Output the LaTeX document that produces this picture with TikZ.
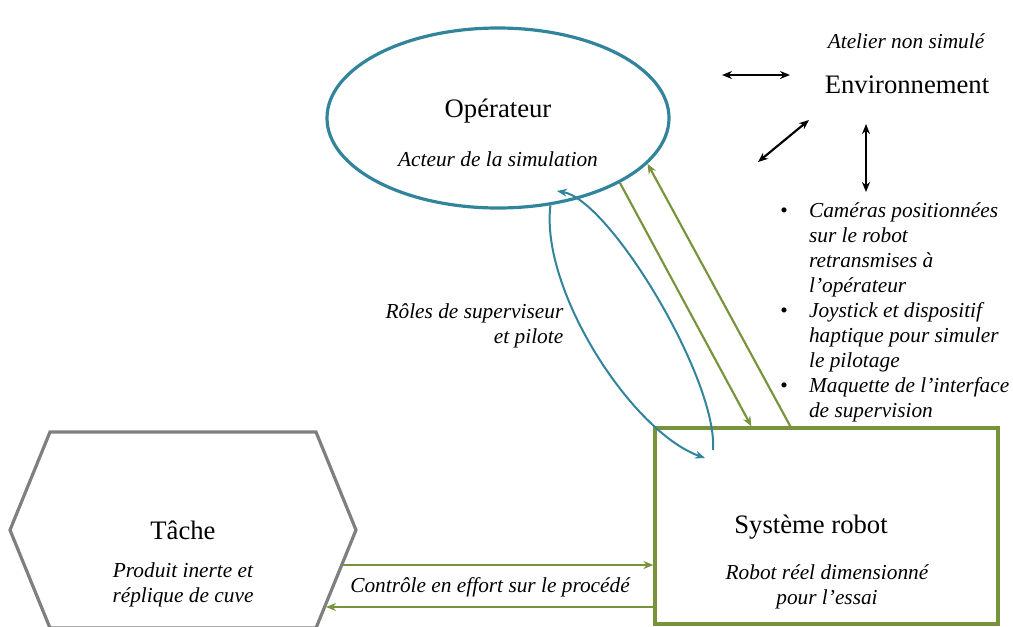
\documentclass[tikz,border=0pt]{standalone}
\usepackage{fontspec}
\setmainfont{Liberation Serif}
\usetikzlibrary{shapes.geometric,arrows.meta,calc}
\definecolor{bleuop}{HTML}{31849B}
\definecolor{vertrob}{HTML}{77933C}
\definecolor{gristache}{HTML}{7F7F7F}

\begin{document}
\begin{tikzpicture}[x=0.75pt,y=-0.75pt,
  titre/.style={font=\fontsize{20}{24}\selectfont},
  soustitre/.style={font=\fontsize{16}{18.7}\selectfont\itshape,align=center},
  fleche/.style={-{Stealth[length=7.5pt,width=6pt]},line width=1.6pt},
  double/.style={{Stealth[length=7.5pt,width=6pt]}-{Stealth[length=7.5pt,width=6pt]},line width=1.6pt}]
\useasboundingbox (0,0) rectangle (1013,626);
\clip (0,0) rectangle (1013,626);

% operateur
\node[ellipse,draw=bleuop,line width=2.4pt,minimum width=256.5pt,minimum height=135pt,inner sep=0pt] (op) at (498,118) {};
\node[titre] (opnom) at (498,111) {Opérateur};
\node[soustitre] (acteur) at (498,159) {Acteur de la simulation};

% systeme robot
\node[draw=vertrob,line width=2.4pt,minimum width=257.25pt,minimum height=147pt,inner sep=0pt] (robot) at (826.5,526) {};
\node[titre] (robnom) at (811,527) {Système robot};
\node[soustitre] (robreel) at (827,587) {Robot réel dimensionné\\pour l’essai};

% tache
\draw[gristache,line width=2.4pt] (50,432) -- (316,432) -- (356,530) -- (316,628) -- (50,628) -- (10,530) -- cycle;
\node[titre] (tache) at (183,530) {Tâche};
\node[soustitre] (produit) at (183,585) {Produit inerte et\\réplique de cuve};

% environnement
\node[titre] (env) at (907,85) {Environnement};
\node[soustitre] (atelier) at (906,41) {Atelier non simulé};
\coordinate (e1) at (722,75);
\coordinate (e2) at (790,75);
\coordinate (e3) at (758,162);
\coordinate (e4) at (809,120);
\coordinate (e5) at (866,124);
\coordinate (e6) at (866,192);
\draw[double] (e1) -- (e2);
\draw[double] (e3) -- (e4);
\draw[double] (e5) -- (e6);

\node[anchor=north west,inner sep=0pt,font=\fontsize{16}{18.7}\selectfont\itshape] (liste) at (780,200) {%
\begin{tabular}{@{}l@{\hspace{16pt}}l@{}}
\upshape\textbullet & Caméras positionnées\\
 & sur le robot\\
 & retransmises à\\
 & l’opérateur\\
\upshape\textbullet & Joystick et dispositif\\
 & haptique pour simuler\\
 & le pilotage\\
\upshape\textbullet & Maquette de l’interface\\
 & de supervision
\end{tabular}};

% operateur <-> robot
\draw[fleche,vertrob] (op.-28.7) -- ($(robot.north west)+(98,0)$);
\draw[fleche,vertrob] ($(robot.north west)+(137,0)$) -- (op.-17.6);

\coordinate (bA) at (705,458);
\coordinate (bB) at (713,450);
\coordinate (bC) at (557,191);
\draw[fleche,bleuop,line width=1.5pt] (op.-59) .. controls (540,290) and (632,432) .. (bA);
\draw[fleche,bleuop,line width=1.5pt] (bB) .. controls (718,380) and (610,200) .. (bC);
\node[soustitre,align=right,anchor=east] (roles) at (568,326) {Rôles de superviseur\\et pilote};

% tache <-> robot
\coordinate (t1) at (342,565);
\coordinate (t2) at (326,607);
\draw[fleche,vertrob] (t1) -- (t1 -| robot.west);
\draw[fleche,vertrob] (t2 -| robot.west) -- (t2);
\node[soustitre] (controle) at (490,587) {Contrôle en effort sur le procédé};
\end{tikzpicture}
\end{document}
